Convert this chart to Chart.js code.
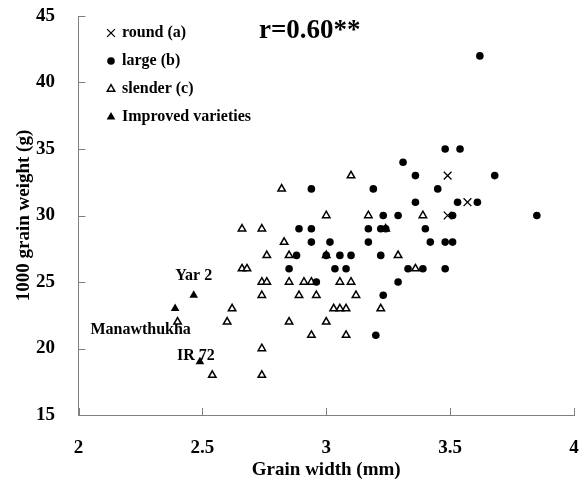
<!DOCTYPE html>
<html><head><meta charset="utf-8">
<script src="https://cdn.jsdelivr.net/npm/chart.js@4/dist/chart.umd.min.js"></script>
<style>html,body{margin:0;padding:0;background:#fff}#wrap{width:585px;height:486px}</style>
</head><body><div id="wrap"><canvas id="c" width="585" height="486"></canvas></div>
<script>
// ---- data (grain width mm, 1000 grain weight g) ----
const roundX = [3.49, 3.57, 3.49];
const roundY = [33, 31, 30];

const largeX = [3.62, 3.48, 3.54, 3.31, 3.36, 3.68, 2.94, 3.19, 3.45, 3.36, 3.53, 3.61,
  3.23, 3.29, 3.51, 3.85, 2.89, 2.94, 3.17, 3.22, 3.24, 3.40, 2.94, 3.015, 3.17, 3.42,
  3.48, 3.51, 2.88, 3.00, 3.055, 3.10, 3.22, 2.85, 3.035, 3.08, 3.33, 3.39, 3.48, 2.96,
  3.29, 3.23, 3.20];
const largeY = [42, 35, 35, 34, 33, 33, 32, 32, 32, 31, 31, 31,
  30, 30, 30, 30, 29, 29, 29, 29, 29, 29, 28, 28, 28, 28,
  28, 28, 27, 27, 27, 27, 27, 26, 26, 26, 26, 26, 26, 25,
  25, 24, 21];

const slenderX = [3.10, 2.82, 3.00, 3.17, 3.39, 2.66, 2.74, 2.83, 2.76, 2.85, 3.00, 3.29,
  2.66, 2.68, 3.36, 2.74, 2.76, 2.85, 2.91, 2.94, 3.055, 3.10, 2.74, 2.89, 2.96, 3.12,
  2.62, 3.03, 3.055, 3.08, 3.22, 2.40, 2.60, 2.85, 3.00, 2.94, 3.08, 2.74, 2.54, 2.74, 3.24];
const slenderY = [33, 32, 30, 30, 30, 29, 29, 28, 27, 27, 27, 27,
  26, 26, 26, 25, 25, 25, 25, 25, 25, 25, 24, 24, 24, 24,
  23, 23, 23, 23, 23, 22, 22, 22, 22, 21, 21, 20, 18, 18, 29];

const improvedX = [2.465, 2.39, 2.49];
const improvedY = [24, 23, 19];
const improvedNames = ['Yar 2', 'Manawthukha', 'IR 72'];

const xTicks = [2, 2.5, 3, 3.5, 4];
const yTicks = [15, 20, 25, 30, 35, 40, 45];

const seriesNames = ['round (a)', 'large (b)', 'slender (c)', 'Improved varieties'];
const corrText = 'r=0.60**';
const xTitle = 'Grain width (mm)';
const yTitle = '1000 grain weight (g)';

// ---- helpers ----
const SERIF = "'Liberation Serif', 'Times New Roman', serif";
const AX = '#808080';
const pts = (xs, ys) => xs.map((x, i) => ({x: x, y: ys[i]}));

const labelOffsets = [[0, -19], [-34.5, 21], [-4, -6]];

function drawMarker(ctx, kind, x, y) {
  ctx.save();
  ctx.strokeStyle = '#000';
  ctx.fillStyle = '#000';
  if (kind === 0) {
    const d = 3.9;
    ctx.lineWidth = 1.3;
    ctx.beginPath();
    ctx.moveTo(x - d, y - d); ctx.lineTo(x + d, y + d);
    ctx.moveTo(x + d, y - d); ctx.lineTo(x - d, y + d);
    ctx.stroke();
  } else if (kind === 1) {
    ctx.beginPath(); ctx.arc(x, y, 3.8, 0, Math.PI * 2); ctx.fill();
  } else {
    const r = kind === 2 ? 4.3 : 5;
    ctx.beginPath();
    ctx.moveTo(x, y - r);
    ctx.lineTo(x + r * 0.866, y + r * 0.5);
    ctx.lineTo(x - r * 0.866, y + r * 0.5);
    ctx.closePath();
    if (kind === 2) { ctx.fillStyle = '#fff'; ctx.fill(); ctx.lineWidth = 1.5; ctx.stroke(); }
    else ctx.fill();
  }
  ctx.restore();
}

const decorPlugin = {
  id: 'decor',
  beforeDatasetsDraw(chart) {
    const ctx = chart.ctx, xs = chart.scales.x, ys = chart.scales.y;
    ctx.save();
    // inward tick marks
    ctx.strokeStyle = AX; ctx.lineWidth = 1;
    ctx.beginPath();
    xTicks.forEach(v => {
      const p = Math.round(xs.getPixelForValue(v)) + 0.5;
      ctx.moveTo(p, ys.bottom); ctx.lineTo(p, ys.bottom - 7);
    });
    yTicks.forEach(v => {
      const p = Math.round(ys.getPixelForValue(v)) + 0.5;
      ctx.moveTo(xs.left, p); ctx.lineTo(xs.left + 7, p);
    });
    ctx.stroke();
    // variety labels
    ctx.fillStyle = '#000';
    ctx.font = 'bold 16px ' + SERIF;
    ctx.textAlign = 'center'; ctx.textBaseline = 'middle';
    improvedNames.forEach((n, i) => {
      const px = xs.getPixelForValue(improvedX[i]) + labelOffsets[i][0];
      const py = ys.getPixelForValue(improvedY[i]) + labelOffsets[i][1];
      ctx.fillText(n, px, py);
    });
    // correlation text
    ctx.font = 'bold 27px ' + SERIF;
    ctx.textAlign = 'left';
    ctx.fillText(corrText, 259, 31);
    // legend
    ctx.font = 'bold 16px ' + SERIF;
    seriesNames.forEach((n, i) => {
      const y = 33 + i * 28;
      drawMarker(ctx, i, 111, y);
      ctx.fillStyle = '#000';
      ctx.fillText(n, 122, y);
    });
    ctx.restore();
  }
};

const font19 = {family: SERIF, size: 19, weight: 'bold'};
const noPad = s => { s.paddingTop = 0; s.paddingBottom = 0; s.paddingLeft = 0; s.paddingRight = 0; };

new Chart(document.getElementById('c'), {
  type: 'scatter',
  data: {
    datasets: [
      {label: seriesNames[0], data: pts(roundX, roundY), pointStyle: 'crossRot', pointRadius: 5.5,
       borderColor: '#000', backgroundColor: '#000', pointBorderWidth: 1.3, order: 1},
      {label: seriesNames[1], data: pts(largeX, largeY), pointStyle: 'circle', pointRadius: 3.8,
       borderColor: '#000', backgroundColor: '#000', pointBorderWidth: 0, order: 2},
      {label: seriesNames[2], data: pts(slenderX, slenderY), pointStyle: 'triangle', pointRadius: 4.3,
       borderColor: '#000', backgroundColor: '#fff', pointBorderWidth: 1.5, order: 3},
      {label: seriesNames[3], data: pts(improvedX, improvedY), pointStyle: 'triangle', pointRadius: 5,
       borderColor: '#000', backgroundColor: '#000', pointBorderWidth: 0, order: 0}
    ]
  },
  options: {
    responsive: false,
    animation: false,
    devicePixelRatio: 1,
    layout: {padding: {left: 0, right: 11, top: 16, bottom: 0}},
    plugins: {legend: {display: false}, tooltip: {enabled: false}},
    scales: {
      x: {
        type: 'linear', min: 2, max: 4,
        afterBuildTicks: s => { s.ticks = xTicks.map(v => ({value: v})); },
        ticks: {font: font19, color: '#000', padding: 21.6, maxRotation: 0, autoSkip: false,
                callback: v => String(v)},
        grid: {display: false, drawTicks: false},
        border: {display: true, color: AX, width: 1},
        title: {display: true, text: xTitle, font: font19, color: '#000', padding: {top: 0, bottom: 4.6}},
        afterFit: s => { s.height = 71; noPad(s); }
      },
      y: {
        type: 'linear', min: 15, max: 45,
        afterBuildTicks: s => { s.ticks = yTicks.map(v => ({value: v})); },
        ticks: {font: font19, color: '#000', padding: 23.5, autoSkip: false,
                callback: v => String(v)},
        grid: {display: false, drawTicks: false},
        border: {display: true, color: AX, width: 1},
        title: {display: true, text: yTitle, font: font19, color: '#000', padding: {top: 12.6, bottom: 0}},
        afterFit: s => { s.width = 78.5; noPad(s); }
      }
    }
  },
  plugins: [decorPlugin]
});
</script></body></html>
